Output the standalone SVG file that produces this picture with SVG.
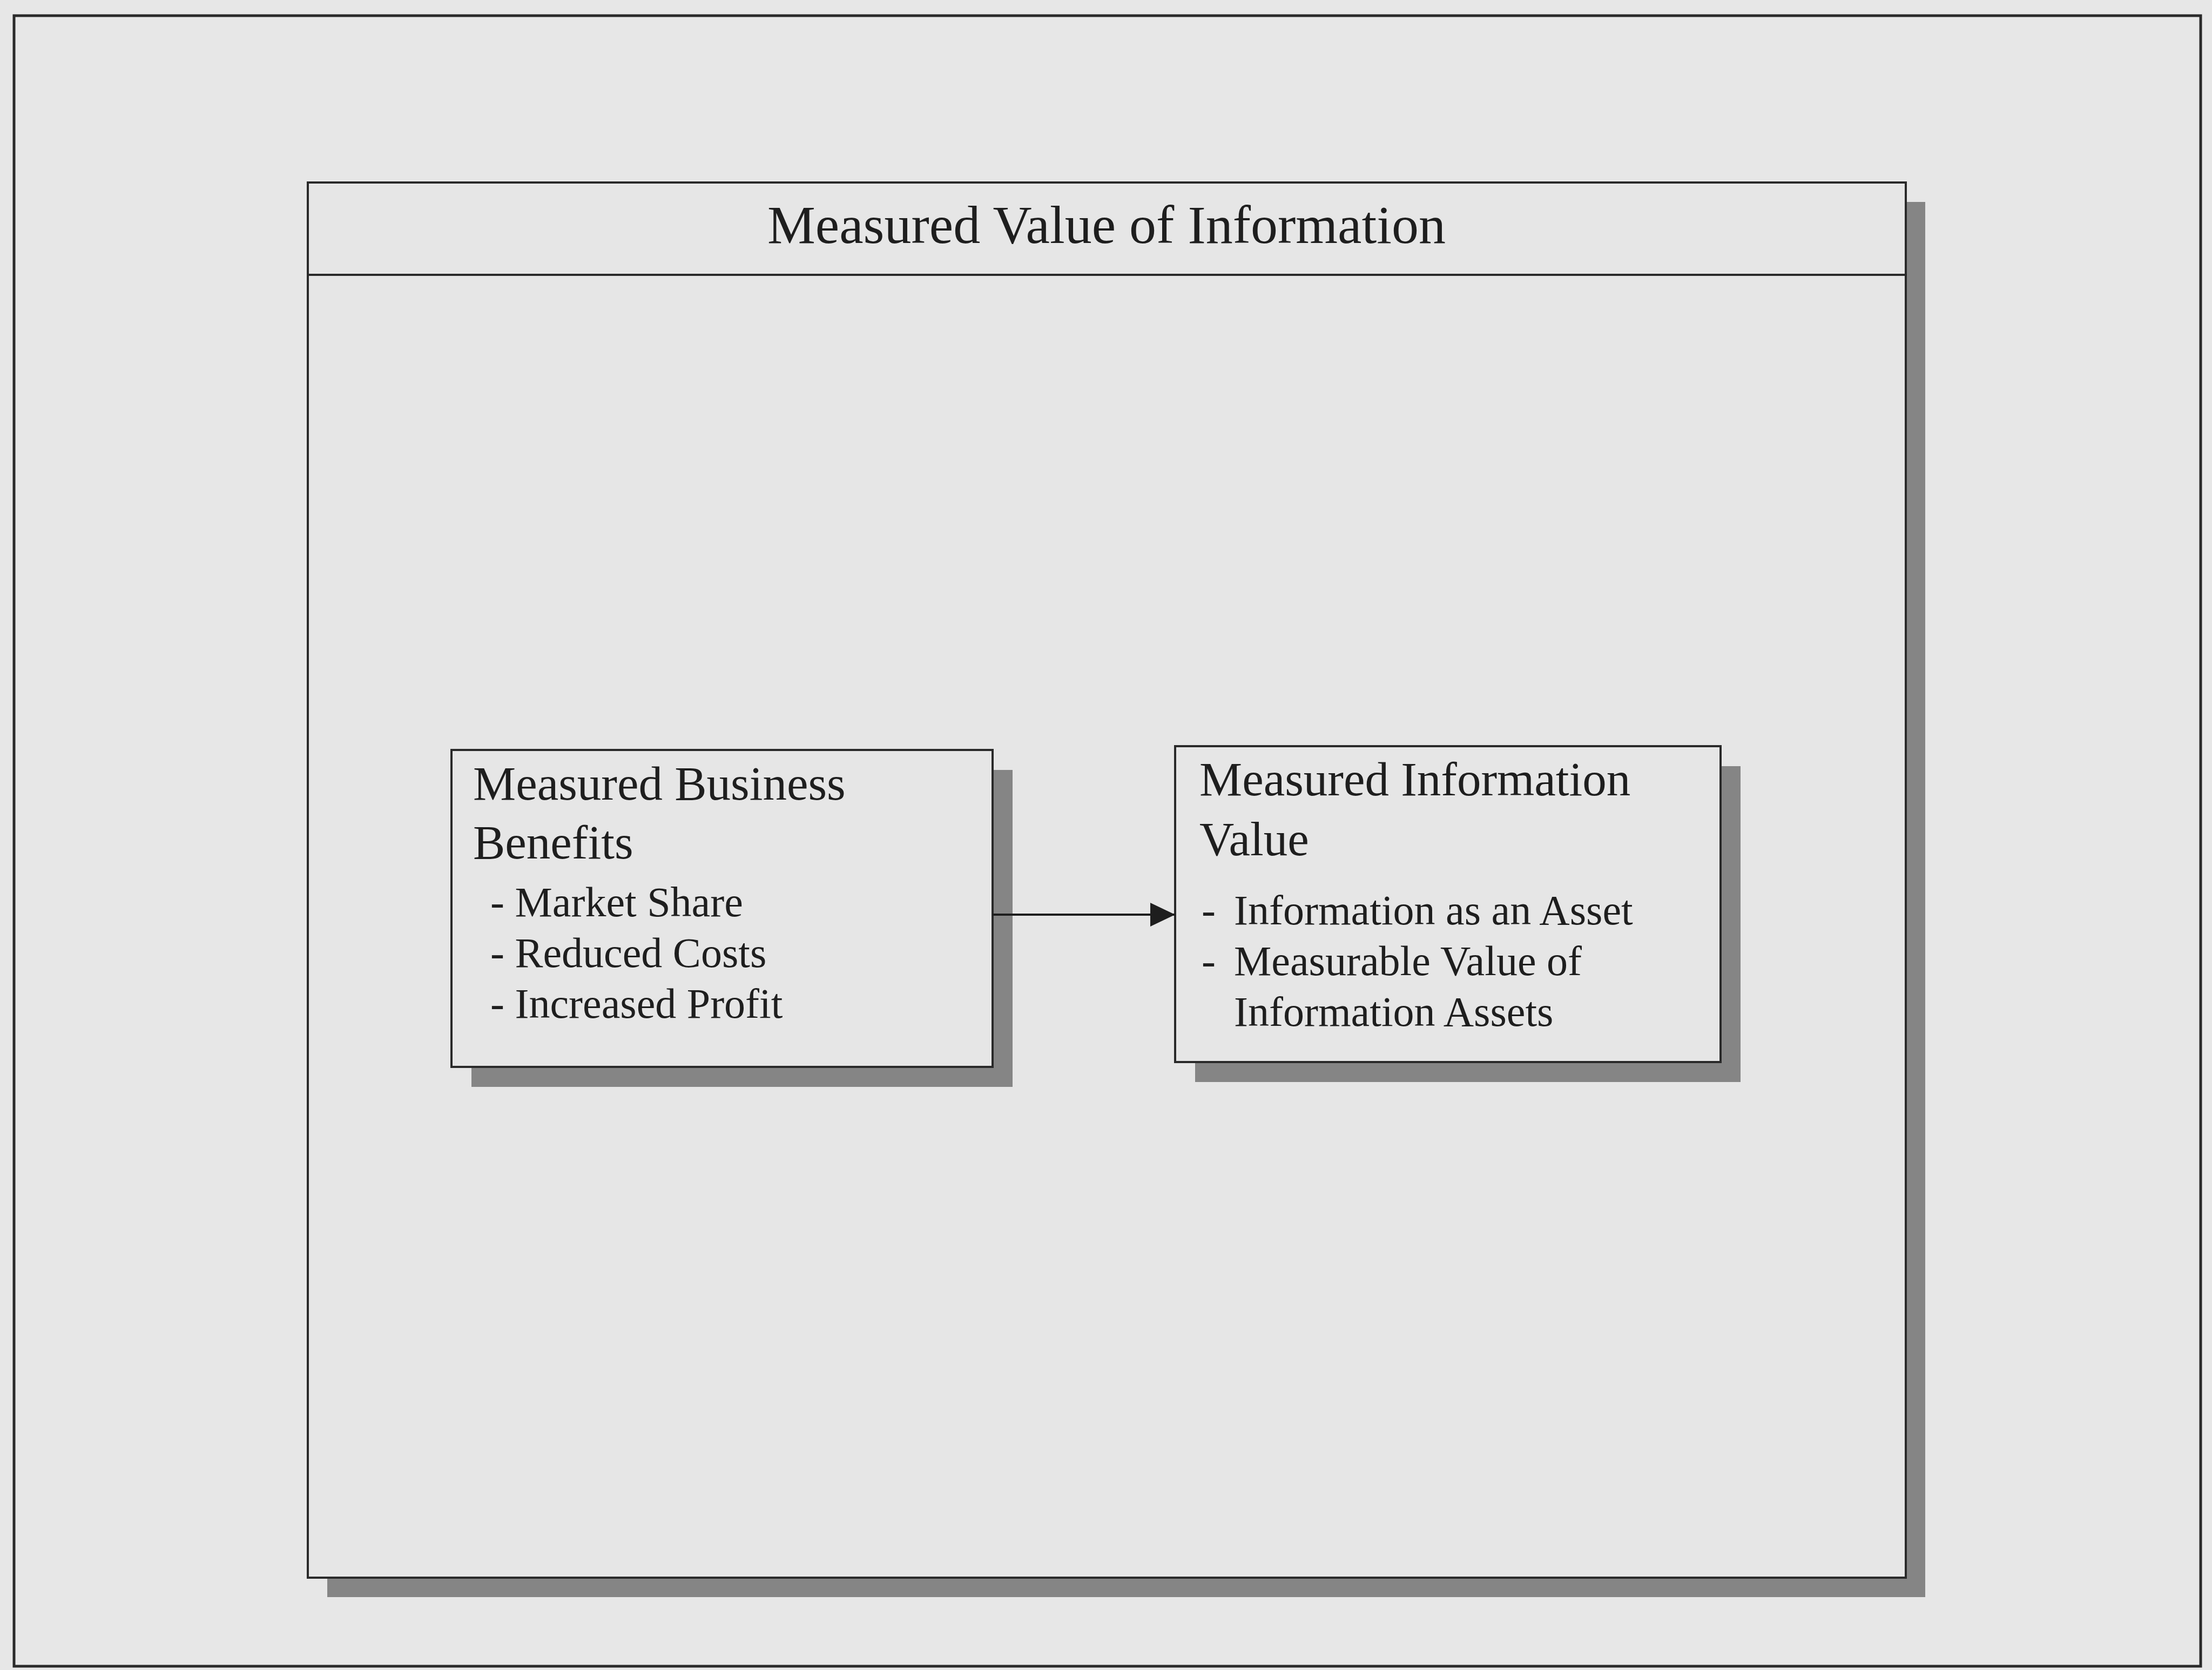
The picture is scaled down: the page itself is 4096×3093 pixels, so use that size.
<svg xmlns="http://www.w3.org/2000/svg" width="4096" height="3093" viewBox="0 0 4096 3093">
<style>
.bg{fill:#e7e7e7}
.frame{fill:none;stroke:#2a2a2a;stroke-width:5}
.box{fill:#e6e6e6;stroke:#2a2a2a;stroke-width:4}
.shadow{fill:#858585}
.t{font-family:"Liberation Serif","Times New Roman",serif;fill:#1e1e1e}
.h{font-size:89px}
.b{font-size:78px}
.title{font-size:100px;text-anchor:middle}
.conn{stroke:#1e1e1e;stroke-width:4;fill:none}
</style>
<defs>
<marker id="arr" markerUnits="userSpaceOnUse" markerWidth="50" markerHeight="50" refX="46" refY="22" orient="auto">
<path d="M0,0 L46,22 L0,44 Z" fill="#1e1e1e"/>
</marker>
</defs>
<rect class="bg" x="0" y="0" width="4096" height="3093"/>
<rect class="frame" x="26" y="29" width="4049" height="3057"/>
<g id="outer-box">
<rect class="shadow" x="606" y="374" width="2959" height="2584"/>
<rect class="box" x="570" y="338" width="2959" height="2584"/>
<line x1="570" y1="509" x2="3529" y2="509" stroke="#2a2a2a" stroke-width="4"/>
<text class="t title" x="2049" y="450">Measured Value of Information</text>
</g>
<g id="business-benefits">
<rect class="shadow" x="873" y="1426" width="1002" height="587"/>
<rect class="box" x="836" y="1389" width="1002" height="587"/>
<text class="t h" x="876" y="1481">Measured Business</text>
<text class="t h" x="876" y="1590">Benefits</text>
<text class="t b" x="908" y="1697">- Market Share</text>
<text class="t b" x="908" y="1791">- Reduced Costs</text>
<text class="t b" x="908" y="1885">- Increased Profit</text>
</g>
<g id="information-value">
<rect class="shadow" x="2213" y="1419" width="1010" height="585"/>
<rect class="box" x="2176" y="1382" width="1010" height="585"/>
<text class="t h" x="2221" y="1473">Measured Information</text>
<text class="t h" x="2221" y="1584">Value</text>
<text class="t b" y="1712"><tspan x="2225">-</tspan><tspan x="2285">Information as an Asset</tspan></text>
<text class="t b" y="1806"><tspan x="2225">-</tspan><tspan x="2285">Measurable Value of</tspan></text>
<text class="t b" x="2285" y="1900">Information Assets</text>
</g>
<g id="connectors">
<line class="conn" x1="1838" y1="1694" x2="2176" y2="1694" marker-end="url(#arr)"/>
</g>
</svg>
